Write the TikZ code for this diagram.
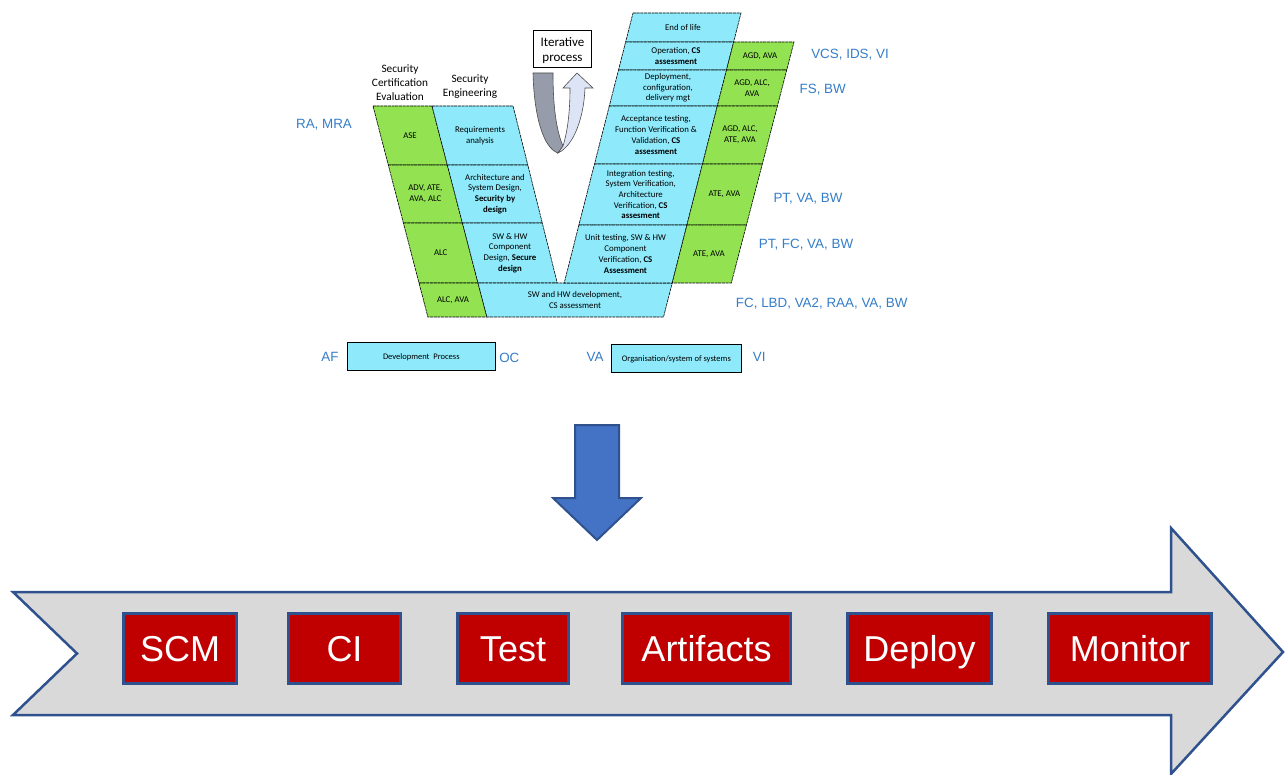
\documentclass[tikz,border=0pt]{standalone}
\usepackage{fontspec}
\setmainfont{Carlito}
\newfontfamily\arialf{Liberation Sans}
\definecolor{cellblue}{RGB}{142,234,251}
\definecolor{cellgreen}{RGB}{146,226,82}
\definecolor{lblue}{RGB}{52,125,200}
\definecolor{darkblue}{RGB}{47,82,143}
\definecolor{boxred}{RGB}{192,0,0}
\definecolor{arrowblue}{RGB}{68,114,196}
\definecolor{pipegray}{RGB}{217,217,217}
\definecolor{ugray}{RGB}{150,156,170}
\definecolor{ulight}{RGB}{220,228,245}
\begin{document}
\begin{tikzpicture}[x=1pt,y=-1pt,
  cellb/.style={fill=cellblue, draw=black, line width=0.6pt, dash pattern=on 3pt off 0.7pt},
  cellg/.style={fill=cellgreen, draw=black, line width=0.6pt, dash pattern=on 3pt off 0.7pt},
  ctext/.style={font=\fontsize{8.8}{10.7}\selectfont, align=center, inner sep=0pt},
  lbl/.style={font=\arialf\fontsize{13.4}{15}\selectfont, text=lblue, inner sep=0pt},
  hdr/.style={font=\fontsize{11.3}{14}\selectfont, align=center, inner sep=0pt},
  legbox/.style={fill=cellblue, draw=black, line width=0.9pt, inner sep=0pt, font=\fontsize{8.5}{10}\selectfont},
  pbox/.style={fill=boxred, draw=darkblue, line width=3pt, text=white,
    font=\arialf\fontsize{36}{40}\selectfont, minimum height=70.3pt, inner sep=0pt,
    text height=25.8pt, text depth=0pt}
]
\useasboundingbox (0,0) rectangle (1285,775);

% ---------- left arm ----------
\filldraw[cellg] (373,106) -- (432,106) -- (447.3,165) -- (388.3,165) -- cycle;
\filldraw[cellb] (432,106) -- (513,106) -- (527.8,165) -- (447.3,165) -- cycle;
\filldraw[cellg] (388.3,165) -- (447.3,165) -- (462.4,223) -- (403.4,223) -- cycle;
\filldraw[cellb] (447.3,165) -- (527.8,165) -- (542.3,223) -- (462.4,223) -- cycle;
\filldraw[cellg] (403.4,223) -- (462.4,223) -- (478,283) -- (419,283) -- cycle;
\filldraw[cellb] (462.4,223) -- (542.3,223) -- (557.3,283) -- (478,283) -- cycle;
% bottom row
\filldraw[cellg] (419,283) -- (478,283) -- (486.9,317) -- (427.9,317) -- cycle;
\filldraw[cellb] (478,283) -- (672.2,283) -- (663.5,317) -- (486.9,317) -- cycle;

% ---------- right arm ----------
\filldraw[cellb] (633,13) -- (741,13) -- (733.6,42) -- (625.6,42) -- cycle;
\filldraw[cellb] (625.6,42) -- (733.6,42) -- (726.5,70) -- (618.5,70) -- cycle;
\filldraw[cellb] (618.5,70) -- (726.5,70) -- (717.3,106) -- (609.3,106) -- cycle;
\filldraw[cellb] (609.3,106) -- (717.3,106) -- (702.5,164) -- (594.5,164) -- cycle;
\filldraw[cellb] (594.5,164) -- (702.5,164) -- (686.9,225) -- (578.9,225) -- cycle;
\filldraw[cellb] (578.9,225) -- (686.9,225) -- (672.2,283) -- (564.2,283) -- cycle;
\filldraw[cellg] (733.6,42) -- (794,42) -- (786.7,70) -- (726.5,70) -- cycle;
\filldraw[cellg] (726.5,70) -- (786.7,70) -- (777.4,106) -- (717.3,106) -- cycle;
\filldraw[cellg] (717.3,106) -- (777.4,106) -- (762.3,164) -- (702.5,164) -- cycle;
\filldraw[cellg] (702.5,164) -- (762.3,164) -- (746.4,225) -- (686.9,225) -- cycle;
\filldraw[cellg] (686.9,225) -- (746.4,225) -- (731.3,283) -- (672.2,283) -- cycle;

% ---------- cell texts ----------
\node[ctext] (ase) at (410,135.5) {ASE};
\node[ctext] (adv) at (425.4,194) {ADV, ATE,\\AVA, ALC};
\node[ctext] (alc) at (440.7,253) {ALC};
\node[ctext] (alcava) at (453,300) {ALC, AVA};
\node[ctext] (req) at (480,135.5) {Requirements\\analysis};
\node[ctext] (arch) at (495,194) {Architecture and\\System Design,\\\textbf{Security by}\\\textbf{design}};
\node[ctext] (swhw) at (510,253) {SW \& HW\\Component\\Design, \textbf{Secure}\\\textbf{design}};
\node[ctext] (dev) at (575,300) {SW and HW development,\\CS assessment};

\node[ctext] (eol) at (683,27.5) {End of life};
\node[ctext] (oper) at (676,56) {Operation, \textbf{CS}\\\textbf{assessment}};
\node[ctext] (depl) at (668,88) {Deployment,\\configuration,\\delivery mgt};
\node[ctext] (acc) at (656,135) {Acceptance testing,\\Function Verification \&\\Validation, \textbf{CS}\\\textbf{assessment}};
\node[ctext] (integ) at (640.7,194.5) {Integration testing,\\System Verification,\\Architecture\\Verification, \textbf{CS}\\\textbf{assesment}};
\node[ctext] (unit) at (625.5,254) {Unit testing, SW \& HW\\Component\\Verification, \textbf{CS}\\\textbf{Assessment}};
\node[ctext] (g1) at (760,56) {AGD, AVA};
\node[ctext] (g2) at (752,88) {AGD, ALC,\\AVA};
\node[ctext] (g3) at (740,135) {AGD, ALC,\\ATE, AVA};
\node[ctext] (g4) at (724.5,194.5) {ATE, AVA};
\node[ctext] (g5) at (709,254) {ATE, AVA};

% ---------- headers ----------
\node[hdr] (hsce) at (400,83) {Security\\Certification\\Evaluation};
\node[hdr] (hse) at (470,87) {Security\\Engineering};

% ---------- iterative process ----------
\node[draw=black, line width=0.8pt, fill=white, minimum width=58pt, minimum height=37.7pt,
  inner sep=0pt] (iter) at (562.5,49) {};
\node[align=center, inner sep=0pt, font=\fontsize{13}{15}\selectfont] (itertext) at (562.5,51) {Iterative\\process};
\filldraw[fill=ugray, draw=black!70, line width=0.6pt]
  (533,73) -- (553,73) .. controls (553,105) and (556,130) .. (563,146) -- (558,153)
  .. controls (543,148) and (534,115) .. (533,73) -- cycle;
\filldraw[fill=ulight, draw=black!70, line width=0.6pt]
  (563,146) .. controls (568,130) and (570,110) .. (570,88) -- (563,88) -- (577,73) -- (593,88)
  -- (585,88) .. controls (584,115) and (575,145) .. (558,153) -- cycle;

% ---------- side labels ----------
\node[lbl] (ra) at (324,125) {RA, MRA};
\node[lbl] (vcs) at (850,55) {VCS, IDS, VI};
\node[lbl] (fs) at (822.7,89.3) {FS, BW};
\node[lbl] (pt1) at (808,198.3) {PT, VA, BW};
\node[lbl] (pt2) at (806,244.3) {PT, FC, VA, BW};
\node[lbl] (fc) at (821.7,303.3) {FC, LBD, VA2, RAA, VA, BW};

% ---------- legend ----------
\node[legbox, minimum width=147.3pt, minimum height=28.3pt] (devp) at (421.3,356.8) {Development\ \ Process};
\node[legbox, minimum width=130.7pt, minimum height=27.7pt] (org) at (676.3,358.8) {Organisation/system of systems};
\node[lbl] (af) at (330,357.3) {AF};
\node[lbl] (oc) at (509.3,358) {OC};
\node[lbl] (va) at (595,356.7) {VA};
\node[lbl] (vi) at (759.3,357) {VI};

% ---------- blue down arrow ----------
\filldraw[fill=arrowblue, draw=darkblue, line width=2pt, line join=miter]
  (575,425) -- (619,425) -- (619,498) -- (641,498) -- (597,540) -- (553,498) -- (575,498) -- cycle;

% ---------- pipeline arrow ----------
\filldraw[fill=pipegray, draw=darkblue, line width=2.5pt, line join=miter]
  (13,592) -- (1171,592) -- (1171,528) -- (1283,652) -- (1171,774) -- (1171,715)
  -- (13,715) -- (77,653.5) -- cycle;

\node[pbox, minimum width=113.6pt] (scm) at (180,648.3) {SCM};
\node[pbox, minimum width=112pt] (ci) at (344.5,648.3) {CI};
\node[pbox, minimum width=111pt] (test) at (513,648.3) {Test};
\node[pbox, minimum width=168pt] (art) at (706.5,648.3) {Artifacts};
\node[pbox, minimum width=144pt] (deploy) at (919.5,648.3) {Deploy};
\node[pbox, minimum width=163pt] (mon) at (1130,648.3) {Monitor};
\end{tikzpicture}
\end{document}
